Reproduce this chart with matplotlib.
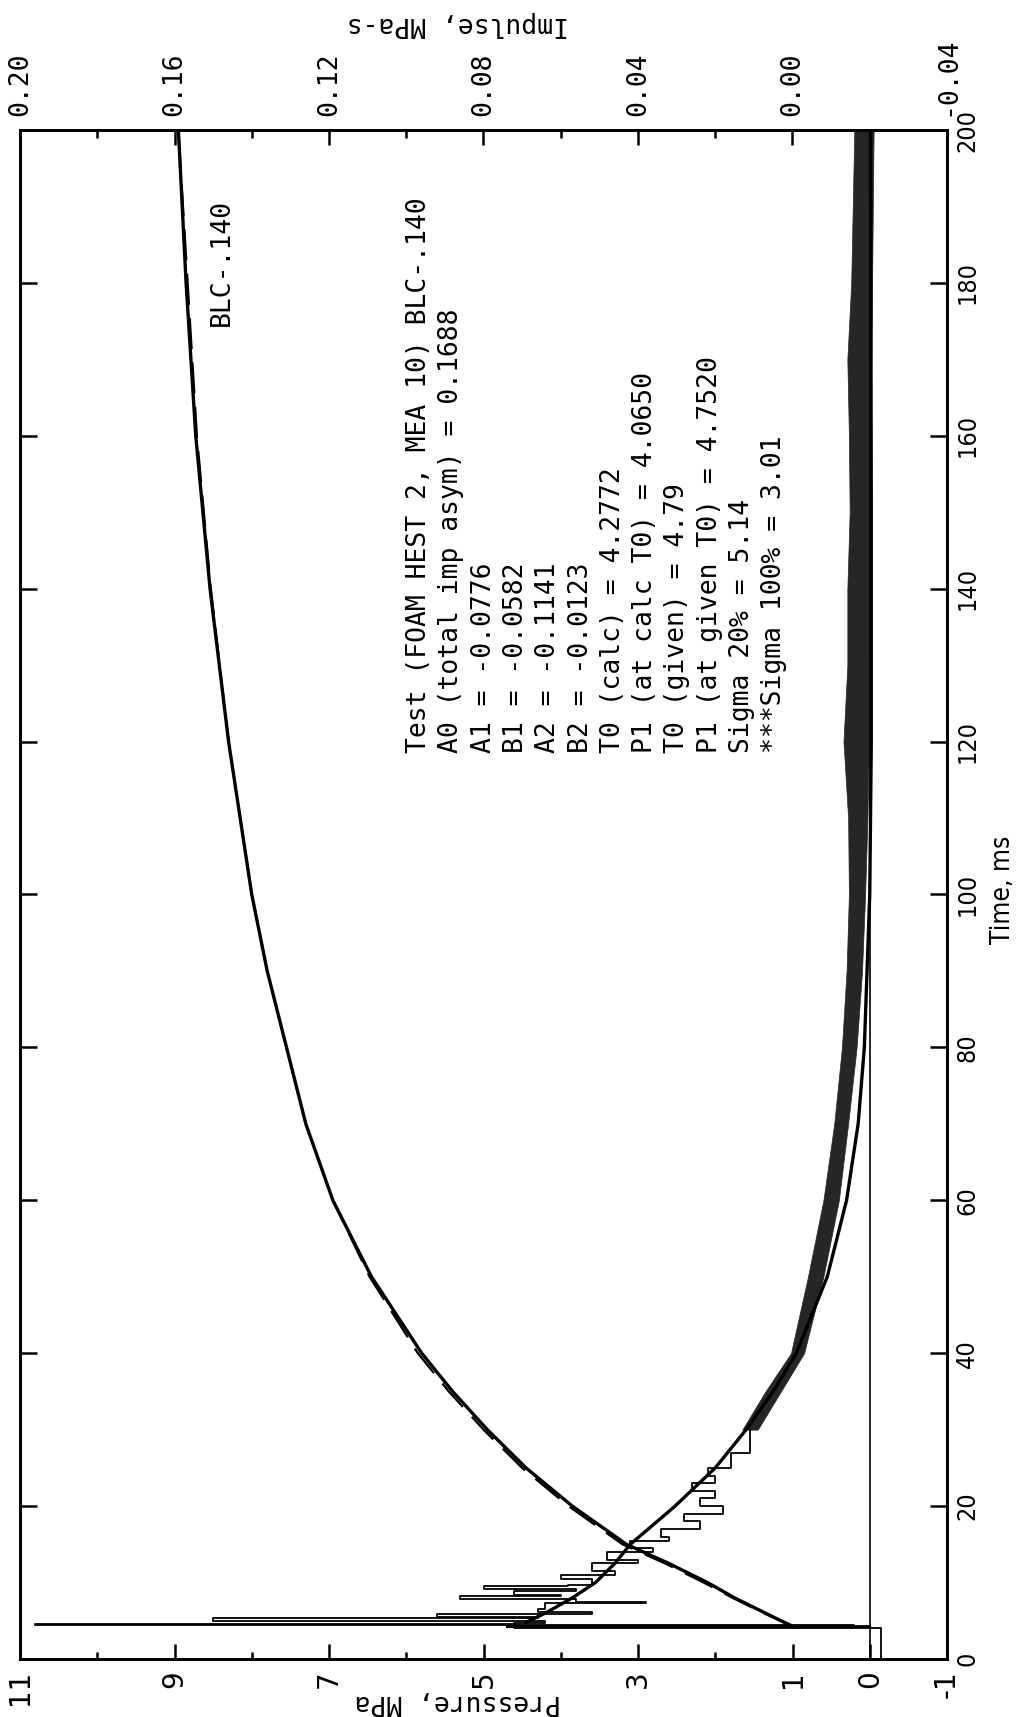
import matplotlib
matplotlib.use("Agg")
import matplotlib.pyplot as plt

t_pm = [0, 4.1, 4.15, 4.2, 4.25, 4.3, 4.35, 4.4, 4.45, 4.6, 4.7, 5.0, 5.4, 5.5, 5.9, 6.1, 6.5,
        7.3, 7.4, 7.8, 8.2, 8.4, 8.9, 9.1, 9.5, 9.7, 10.5, 11.0, 11.5, 12.5, 13.0,
        14.0, 14.5, 15.5, 16.0, 17.0, 18.0, 19.0, 20.0, 21.0, 22.0, 23.0, 24.0, 25.0,
        27.0, 30.0]
p_pm = [-0.15, -0.15, 4.6, 0.1, 4.7, 0.0, 4.7, 0.2, 4.8, 10.8, 4.6, 4.2, 8.5, 4.3, 5.6, 3.6, 4.3,
        4.2, 2.9, 3.8, 5.3, 4.0, 4.6, 3.8, 5.0, 3.9, 3.6, 4.0, 3.3, 3.6, 3.0,
        3.4, 2.8, 3.1, 2.6, 2.7, 2.2, 2.4, 1.9, 2.2, 2.0, 2.3, 2.0, 2.1,
        1.8, 1.55]

# noisy tail of the measured pressure: low / high edge of the band
t_band = [30, 35, 40, 50, 60, 70, 80, 90, 100, 110, 120, 130, 140, 150, 160, 170, 180, 190, 200]
p_lo = [1.45, 1.15, 0.85, 0.60, 0.40, 0.28, 0.17, 0.10, 0.06, 0.03, 0.01, 0.01, 0.0, -0.01, -0.01, -0.02, -0.03, -0.04, -0.05]
p_hi = [1.65, 1.35, 1.02, 0.80, 0.60, 0.46, 0.36, 0.30, 0.27, 0.28, 0.34, 0.29, 0.29, 0.26, 0.27, 0.29, 0.24, 0.22, 0.20]

# fitted pressure
t_pf = [4.8, 6, 8, 10, 12.5, 15, 20, 25, 30, 35, 40, 50, 60, 70, 80, 100, 120, 150, 200]
p_pf = [4.45, 4.2, 3.85, 3.55, 3.3, 3.1, 2.52, 2.0, 1.6, 1.25, 0.95, 0.55, 0.3, 0.15, 0.07, 0.0, -0.02, -0.02, -0.01]

# impulse, measured and fitted (MPa-s)
t_imp = [4.3, 5, 6, 8, 10, 12.5, 15, 20, 25, 30, 35, 40, 50, 60, 70, 80, 90, 100, 120, 140, 160, 180, 200]
i_meas = [0.0, 0.003, 0.007, 0.015, 0.022, 0.032, 0.043, 0.057, 0.069, 0.079, 0.088, 0.096, 0.109,
          0.119, 0.126, 0.131, 0.136, 0.140, 0.146, 0.1508, 0.1545, 0.157, 0.159]
i_fit = [0.0, 0.003, 0.0075, 0.0155, 0.023, 0.033, 0.044, 0.058, 0.070, 0.080, 0.089, 0.097, 0.1095,
         0.119, 0.126, 0.131, 0.136, 0.140, 0.146, 0.1506, 0.1542, 0.1566, 0.159]

p_ticks = [11, 9, 7, 5, 3, 1, 0, -1]
p_minor = [10, 8, 6, 4, 2]
i_ticks = [0.20, 0.16, 0.12, 0.08, 0.04, 0.00, -0.04]
i_labels = ["0.20", "0.16", "0.12", "0.08", "0.04", "0.00", "-0.04"]
i_minor = [0.18, 0.14, 0.10, 0.06, 0.02, -0.02]
t_ticks = [0, 20, 40, 60, 80, 100, 120, 140, 160, 180, 200]

notes = ["Test (FOAM HEST 2, MEA 10) BLC-.140",
         "A0 (total imp asym) = 0.1688",
         "A1 = -0.0776",
         "B1 = -0.0582",
         "A2 = -0.1141",
         "B2 = -0.0123",
         "T0 (calc) = 4.2772",
         "P1 (at calc T0) = 4.0650",
         "T0 (given) = 4.79",
         "P1 (at given T0) = 4.7520",
         "Sigma 20% = 5.14",
         "***Sigma 100% = 3.01"]

W, H = 1018, 1717
fig = plt.figure(figsize=(W / 100, H / 100), dpi=100)
ax = fig.add_axes([20 / W, (H - 1659) / H, 927 / W, 1529 / H])
ax.set_xlim(11, -1)
ax.set_ylim(0, 200)

ax.plot(p_pm, t_pm, color="black", lw=1.3, drawstyle="steps-post")
ax.fill_betweenx(t_band, p_lo, p_hi, color="0.15", lw=0.5)
ax.plot(p_pf, t_pf, color="black", lw=2.4)
ax.axvline(0, color="black", lw=1.2)

ax2 = ax.twiny()
ax2.set_xlim(0.20, -0.04)
ax2.plot(i_meas, t_imp, color="black", lw=2.4)
ax2.plot(i_fit, t_imp, color="black", lw=1.6, dashes=(14, 6))

for s in list(ax.spines.values()) + list(ax2.spines.values()):
    s.set_linewidth(2)

ax.set_xticks(p_ticks)
ax.set_xticklabels([str(v) for v in p_ticks], rotation=90, fontsize=20)
ax.set_xticks(p_minor, minor=True)
ax.set_yticks(t_ticks)
ax.set_yticklabels([str(v) for v in t_ticks], rotation=90, va="center", fontsize=18,
                   fontstretch="condensed")
ax.yaxis.set_ticks_position("both")
ax.tick_params(axis="y", which="major", direction="in", length=12, width=1.8,
               left=True, right=True, labelleft=False, labelright=True, pad=6)
ax.tick_params(axis="x", which="major", direction="in", length=11, width=1.8, pad=8,
               top=False)
ax.tick_params(axis="x", which="minor", direction="in", length=5, width=1.8, top=False)

ax2.set_xticks(i_ticks)
ax2.set_xticklabels(i_labels, rotation=90, fontsize=19, family="DejaVu Sans Mono")
ax2.set_xticks(i_minor, minor=True)
ax2.tick_params(axis="x", which="major", direction="in", length=11, width=1.8, pad=10)
ax2.tick_params(axis="x", which="minor", direction="in", length=6, width=1.8)

fig.text(458 / W, 1 - 1702 / H, "Pressure, MPa", rotation=180, ha="center", va="center",
         fontsize=19, family="DejaVu Sans Mono")
fig.text(458 / W, 1 - 24 / H, "Impulse, MPa-s", rotation=180, ha="center", va="center",
         fontsize=19, family="DejaVu Sans Mono")
fig.text(1003 / W, 1 - 890 / H, "Time, ms", rotation=90, ha="center", va="center",
         fontsize=19, fontstretch="condensed")

# notes block, one column per line, reading bottom to top
x0 = 419
for k, line in enumerate(notes):
    fig.text((x0 + 32.3 * k) / W, 1 - 753 / H, line, rotation=90, rotation_mode="anchor",
             ha="left", va="center", fontsize=19, family="DejaVu Sans Mono")
fig.text(222 / W, 1 - 326 / H, "BLC-.140", rotation=90, rotation_mode="anchor",
         ha="left", va="center", fontsize=19, family="DejaVu Sans Mono")

fig.savefig("out.png", dpi=100, facecolor="white")
